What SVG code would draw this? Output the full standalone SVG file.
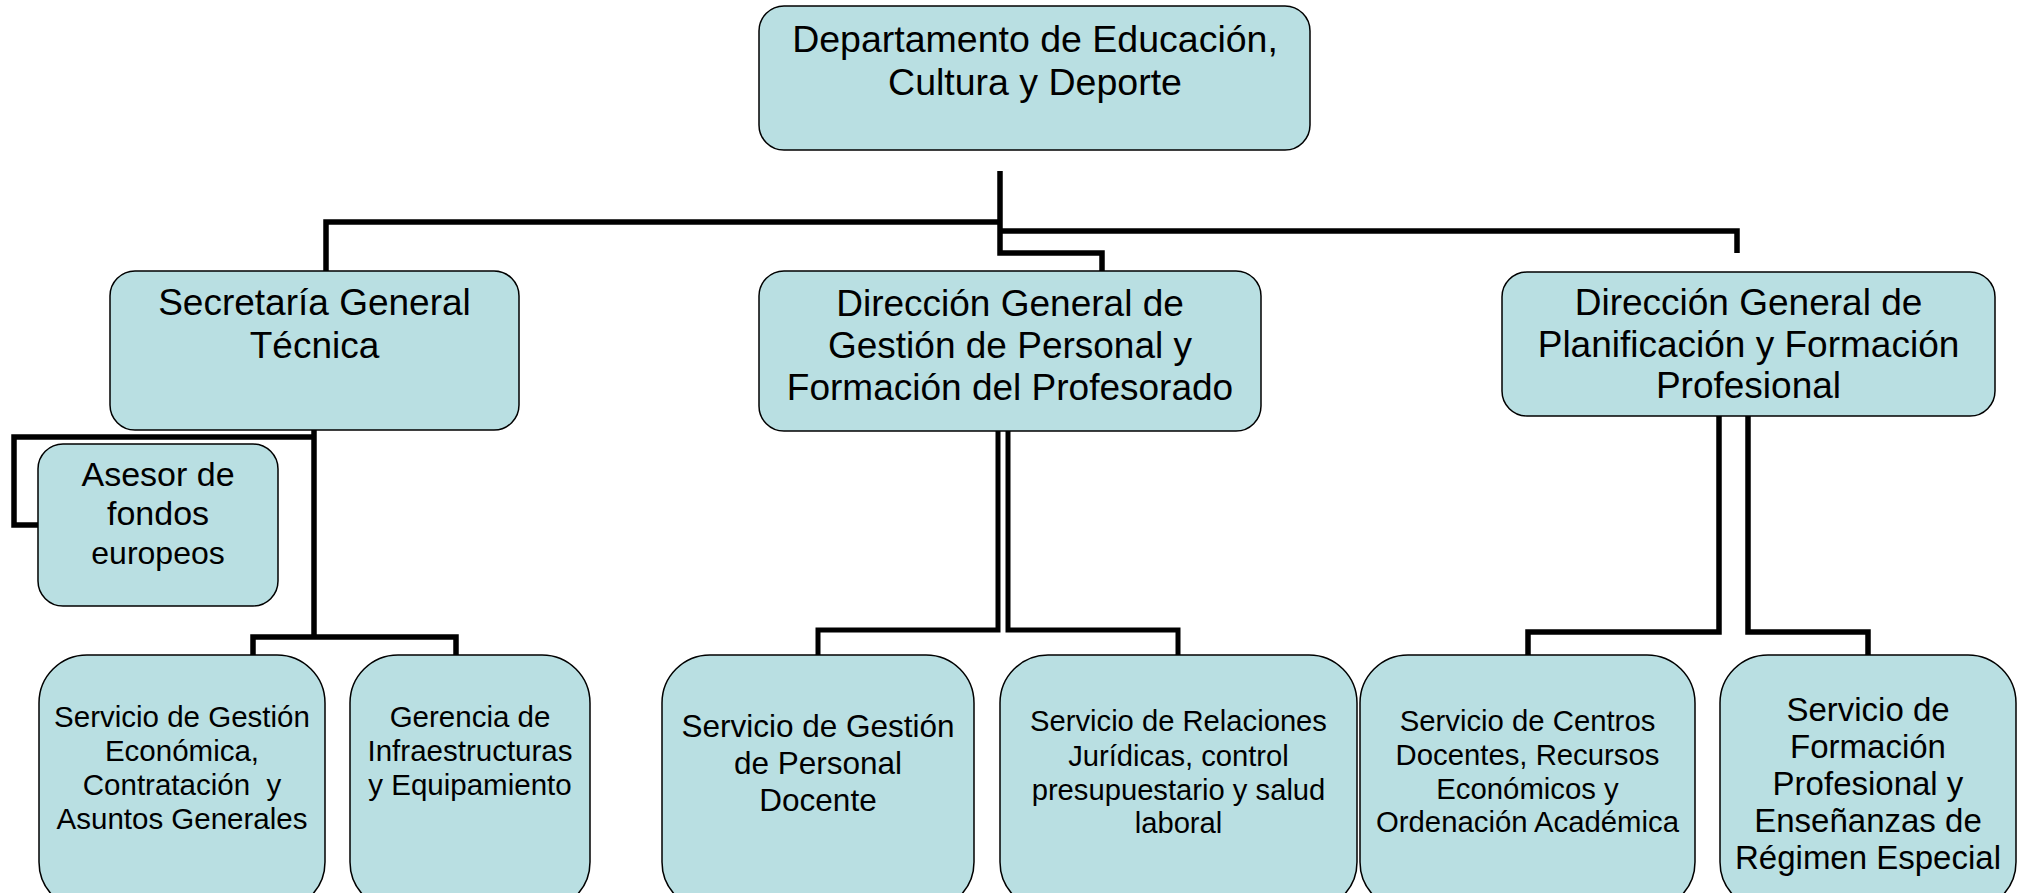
<svg xmlns="http://www.w3.org/2000/svg" width="2017" height="893" viewBox="0 0 2017 893">
<style>
.box{fill:#B9DFE2;stroke:#000;stroke-width:1.5}
.t{font-family:"Liberation Sans",Arial,sans-serif;fill:#000;text-anchor:middle}
.c{fill:none;stroke:#000;stroke-width:5.5;stroke-linejoin:miter;stroke-linecap:butt}
.c2{fill:none;stroke:#000;stroke-width:5;stroke-linejoin:miter}
</style>
<rect width="2017" height="893" fill="#fff"/>
<g id="connectors">
<path class="c" d="M1000,171 V253 H1102 V271"/>
<path class="c" d="M1000,222 H326 V271"/>
<path class="c" d="M1000,231 H1737 V253"/>
<path class="c" d="M314,430 V637"/>
<path class="c" d="M314,437 H14 V525 H38"/>
<path class="c" d="M253,655 V637 H456 V655"/>
<path class="c2" d="M998,431 V630 H818 V655"/>
<path class="c2" d="M1008,431 V630 H1178 V655"/>
<path class="c" d="M1719,416 V632 H1528 V655"/>
<path class="c" d="M1748,416 V632 H1868 V655"/>
</g>
<g id="n-departamento">
<rect class="box" x="759" y="6" width="551" height="144" rx="25"/>
<text class="t" font-size="37.5" x="1035" y="52">Departamento de Educación,</text>
<text class="t" font-size="37.5" x="1035" y="95">Cultura y Deporte</text>
</g>
<g id="n-secretaria">
<rect class="box" x="110" y="271" width="409" height="159" rx="25"/>
<text class="t" font-size="37" x="314.5" y="315">Secretaría General</text>
<text class="t" font-size="37" x="314.5" y="358">Técnica</text>
</g>
<g id="n-dg-personal">
<rect class="box" x="759" y="271" width="502" height="160" rx="25"/>
<text class="t" font-size="37" x="1010" y="316">Dirección General de</text>
<text class="t" font-size="37" x="1010" y="358">Gestión de Personal y</text>
<text class="t" font-size="37" x="1010" y="400">Formación del Profesorado</text>
</g>
<g id="n-dg-planificacion">
<rect class="box" x="1502" y="272" width="493" height="144" rx="25"/>
<text class="t" font-size="37" x="1748.5" y="315">Dirección General de</text>
<text class="t" font-size="37" x="1748.5" y="357">Planificación y Formación</text>
<text class="t" font-size="37" x="1748.5" y="398">Profesional</text>
</g>
<g id="n-asesor">
<rect class="box" x="38" y="444" width="240" height="162" rx="25"/>
<text class="t" font-size="34" x="158" y="486">Asesor de</text>
<text class="t" font-size="34" x="158" y="525">fondos</text>
<text class="t" font-size="32" x="158" y="564">europeos</text>
</g>
<g id="n-gestion-economica">
<rect class="box" x="39" y="655" width="286" height="255" rx="48"/>
<text class="t" font-size="29.5" x="182" y="727">Servicio de Gestión</text>
<text class="t" font-size="29.5" x="182" y="761">Económica,</text>
<text class="t" font-size="29.5" x="182" y="795" xml:space="preserve">Contratación  y</text>
<text class="t" font-size="29.5" x="182" y="829">Asuntos Generales</text>
</g>
<g id="n-gerencia">
<rect class="box" x="350" y="655" width="240" height="255" rx="48"/>
<text class="t" font-size="29.5" x="470" y="727">Gerencia de</text>
<text class="t" font-size="29.5" x="470" y="761">Infraestructuras</text>
<text class="t" font-size="29.5" x="470" y="795">y Equipamiento</text>
</g>
<g id="n-personal-docente">
<rect class="box" x="662" y="655" width="312" height="255" rx="48"/>
<text class="t" font-size="31.5" x="818" y="737">Servicio de Gestión</text>
<text class="t" font-size="31.5" x="818" y="774">de Personal</text>
<text class="t" font-size="31.5" x="818" y="811">Docente</text>
</g>
<g id="n-relaciones">
<rect class="box" x="1000" y="655" width="357" height="255" rx="48"/>
<text class="t" font-size="29.2" x="1178.5" y="731">Servicio de Relaciones</text>
<text class="t" font-size="29.2" x="1178.5" y="766">Jurídicas, control</text>
<text class="t" font-size="29.2" x="1178.5" y="800">presupuestario y salud</text>
<text class="t" font-size="29.2" x="1178.5" y="833">laboral</text>
</g>
<g id="n-centros">
<rect class="box" x="1360" y="655" width="335" height="255" rx="48"/>
<text class="t" font-size="29.3" x="1527.5" y="731">Servicio de Centros</text>
<text class="t" font-size="29.3" x="1527.5" y="765">Docentes, Recursos</text>
<text class="t" font-size="29.3" x="1527.5" y="799">Económicos y</text>
<text class="t" font-size="29.3" x="1527.5" y="832">Ordenación Académica</text>
</g>
<g id="n-formacion-profesional">
<rect class="box" x="1720" y="655" width="296" height="255" rx="48"/>
<text class="t" font-size="33" x="1868" y="721">Servicio de</text>
<text class="t" font-size="33" x="1868" y="758">Formación</text>
<text class="t" font-size="33" x="1868" y="795">Profesional y</text>
<text class="t" font-size="33" x="1868" y="832">Enseñanzas de</text>
<text class="t" font-size="33" x="1868" y="869">Régimen Especial</text>
</g>
</svg>
